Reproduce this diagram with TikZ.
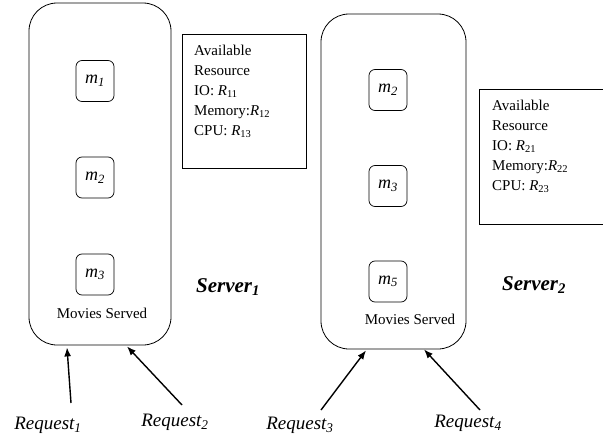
\documentclass[tikz,border=0pt]{standalone}
\usepackage{fontspec}
\setmainfont{Liberation Serif}
\usetikzlibrary{arrows.meta}
\begin{document}
\begin{tikzpicture}[x=1pt,y=-1pt,
  server/.style={draw,line width=0.8pt,rounded corners=28pt,inner sep=0pt},
  movie/.style={draw,line width=0.7pt,rounded corners=6pt,minimum width=38pt,minimum height=41pt,inner sep=0pt,font=\fontsize{18}{20}\selectfont\itshape},
  resbox/.style={draw,line width=0.7pt,inner sep=0pt},
  restext/.style={align=left,inner sep=0pt,anchor=north west,font=\fontsize{15}{20}\selectfont},
  served/.style={font=\fontsize{15}{18}\selectfont,inner sep=0pt},
  srvlabel/.style={font=\fontsize{21}{24}\selectfont\bfseries\itshape,inner sep=0pt},
  reqlabel/.style={font=\fontsize{19}{22}\selectfont\itshape,inner sep=0pt},
  req/.style={line width=1.4pt,-{Latex[length=9pt,width=7pt]}}]
\useasboundingbox (0,0) rectangle (603,439);

% server 1
\node[server,minimum width=142pt,minimum height=342pt] (s1) at (100,174) {};
\node[movie] (s1m1) at (95,81) {m\textsubscript{1}};
\node[movie] (s1m2) at (95,177.5) {m\textsubscript{2}};
\node[movie] (s1m3) at (95,274.5) {m\textsubscript{3}};
\node[served] (s1ms) at (102,313) {Movies Served};
\node[srvlabel] (s1lab) at (228,287) {Server\textsubscript{1}};

% server 2
\node[server,minimum width=145pt,minimum height=335pt] (s2) at (393.5,181.5) {};
\node[movie] (s2m2) at (388,90) {m\textsubscript{2}};
\node[movie] (s2m3) at (388,186) {m\textsubscript{3}};
\node[movie] (s2m5) at (388,281.5) {m\textsubscript{5}};
\node[served] (s2ms) at (410,319) {Movies Served};
\node[srvlabel] (s2lab) at (534,285) {Server\textsubscript{2}};

% available resources
\node[resbox,minimum width=124pt,minimum height=134pt] (r1) at (244,101) {};
\node[restext] (r1t) at (194,45) {Available\\Resource\\IO: \textit{R}\textsubscript{11}\\Memory:\textit{R}\textsubscript{12}\\CPU: \textit{R}\textsubscript{13}};
\node[resbox,minimum width=124pt,minimum height=135pt] (r2) at (541,156.5) {};
\node[restext] (r2t) at (492,100) {Available\\Resource\\IO: \textit{R}\textsubscript{21}\\Memory:\textit{R}\textsubscript{22}\\CPU: \textit{R}\textsubscript{23}};

% requests
\node[reqlabel] (q1) at (48,425) {Request\textsubscript{1}};
\node[reqlabel] (q2) at (175,422) {Request\textsubscript{2}};
\node[reqlabel] (q3) at (300,425) {Request\textsubscript{3}};
\node[reqlabel] (q4) at (468,423) {Request\textsubscript{4}};

\coordinate (t1) at (71,403);
\coordinate (t2) at (182,405);
\coordinate (t3) at (321,410);
\coordinate (t4) at (480,410);

\draw[req] (t1) -- ([xshift=-33pt,yshift=-2pt]s1.south);
\draw[req] (t2) -- ([xshift=27pt,yshift=-1pt]s1.south);
\draw[req] (t3) -- ([xshift=-27.5pt,yshift=-1pt]s2.south);
\draw[req] (t4) -- ([xshift=30.5pt,yshift=0pt]s2.south);
\end{tikzpicture}
\end{document}
